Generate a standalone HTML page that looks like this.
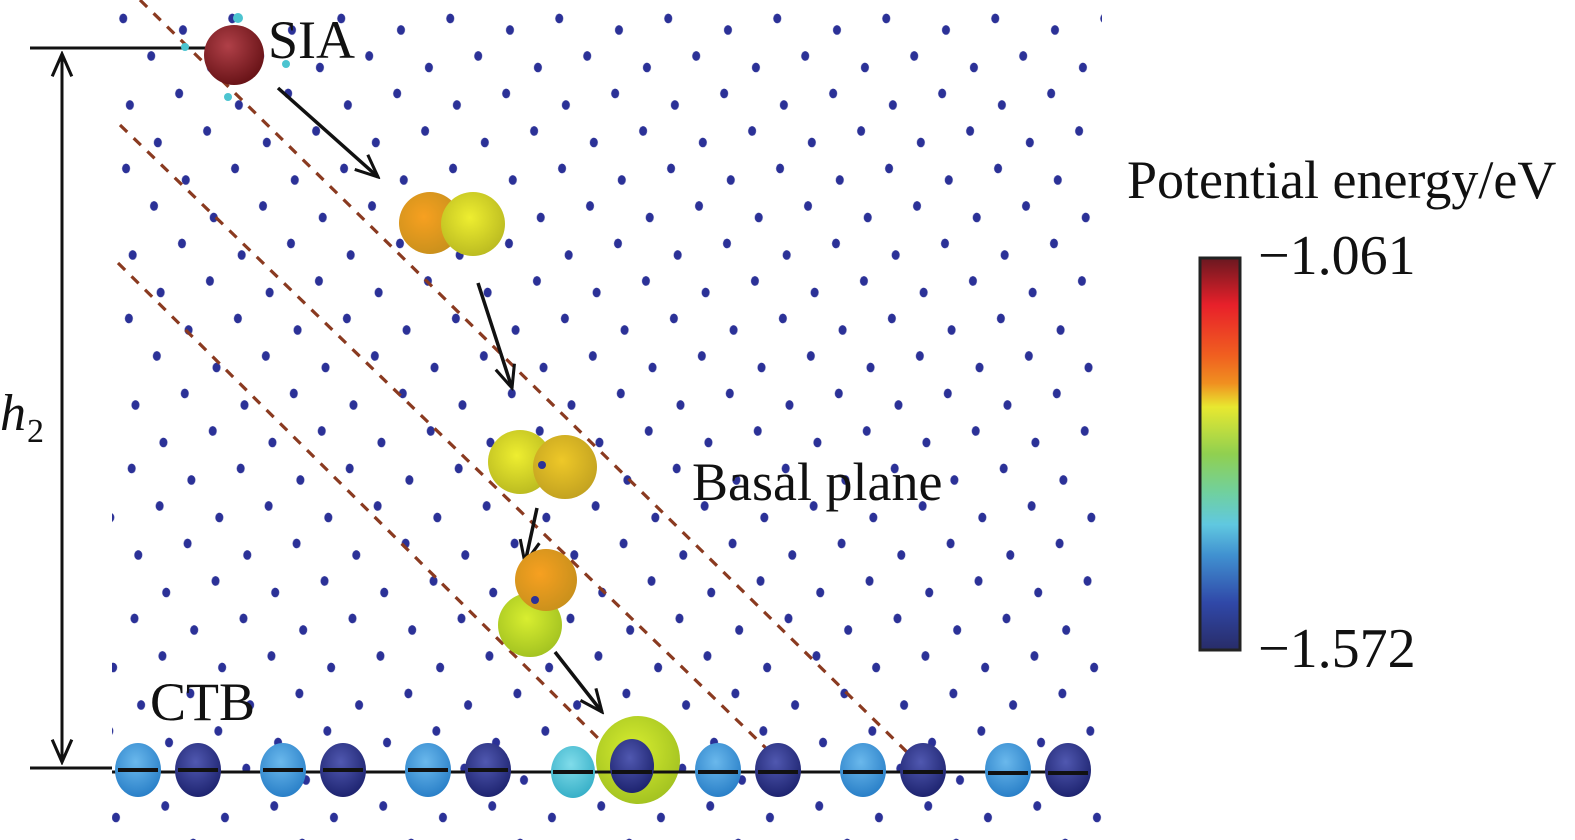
<!DOCTYPE html>
<html><head><meta charset="utf-8"><style>
html,body{margin:0;padding:0;background:#fff}
svg{display:block}
text{font-family:"Liberation Serif",serif;fill:#111}
</style></head><body>
<svg width="1575" height="840" viewBox="0 0 1575 840" xmlns="http://www.w3.org/2000/svg">
<defs>
<pattern id="pa" width="109" height="37.5" patternUnits="userSpaceOnUse" patternTransform="skewX(36.7)">
<g transform="translate(51.6,30) skewX(-36.7)"><ellipse rx="4" ry="4.8" fill="#2b3197"/></g>
<g transform="translate(0.5,18.5) skewX(-36.7)"><ellipse rx="4" ry="4.8" fill="#2b3197"/></g>
<g transform="translate(109.5,18.5) skewX(-36.7)"><ellipse rx="4" ry="4.8" fill="#2b3197"/></g>
</pattern>
<radialGradient id="gRed" cx="40%" cy="35%" r="65%"><stop offset="0" stop-color="#b04048"/><stop offset="1" stop-color="#6a1418"/></radialGradient>
<radialGradient id="gOr" cx="40%" cy="40%" r="65%"><stop offset="0" stop-color="#f7a020"/><stop offset="1" stop-color="#c8901c"/></radialGradient>
<radialGradient id="gYe" cx="45%" cy="40%" r="65%"><stop offset="0" stop-color="#eeee30"/><stop offset="1" stop-color="#b8b820"/></radialGradient>
<radialGradient id="gYo" cx="45%" cy="40%" r="65%"><stop offset="0" stop-color="#eec828"/><stop offset="1" stop-color="#c0a020"/></radialGradient>
<radialGradient id="gLi" cx="45%" cy="40%" r="65%"><stop offset="0" stop-color="#d8ee30"/><stop offset="1" stop-color="#a0c020"/></radialGradient>
<radialGradient id="gLb" cx="45%" cy="35%" r="65%"><stop offset="0" stop-color="#6ab8ec"/><stop offset="1" stop-color="#2a80c8"/></radialGradient>
<radialGradient id="gDb" cx="45%" cy="35%" r="65%"><stop offset="0" stop-color="#5058b0"/><stop offset="1" stop-color="#1e2470"/></radialGradient>
<radialGradient id="gCy" cx="45%" cy="35%" r="65%"><stop offset="0" stop-color="#80dcea"/><stop offset="1" stop-color="#38b0c8"/></radialGradient>
<linearGradient id="cb" x1="0" y1="0" x2="0" y2="1">
<stop offset="0" stop-color="#6a1820"/><stop offset="0.12" stop-color="#e8202a"/><stop offset="0.25" stop-color="#f06020"/><stop offset="0.32" stop-color="#f09020"/><stop offset="0.38" stop-color="#e8e830"/><stop offset="0.5" stop-color="#90d050"/><stop offset="0.6" stop-color="#70d0a0"/><stop offset="0.68" stop-color="#60c8e0"/><stop offset="0.76" stop-color="#4090d0"/><stop offset="0.88" stop-color="#3048a8"/><stop offset="1" stop-color="#282c68"/>
</linearGradient>
<marker id="ah2" viewBox="0 0 20 20" refX="18" refY="10" markerWidth="28" markerHeight="28" markerUnits="userSpaceOnUse" orient="auto-start-reverse"><path d="M2,3 L18,10 L2,17" fill="none" stroke="#111" stroke-width="2.2"/></marker>
</defs>
<rect x="112" y="0" width="990" height="840" fill="url(#pa)"/>
<g stroke="#8a3a20" stroke-width="3.2" stroke-dasharray="10,9">
<line x1="140" y1="0" x2="910" y2="755"/>
<line x1="120" y1="125" x2="770" y2="752"/>
<line x1="118" y1="263" x2="605" y2="745"/>
</g>
<line x1="30" y1="48" x2="210" y2="48" stroke="#111" stroke-width="3"/>
<line x1="30" y1="768" x2="112" y2="768" stroke="#111" stroke-width="3"/>
<line x1="62" y1="54" x2="62" y2="762" stroke="#111" stroke-width="3" marker-start="url(#ah2)" marker-end="url(#ah2)"/>
<text x="0" y="430" font-size="52" font-style="italic">h</text><text x="27" y="442" font-size="34">2</text>
<circle cx="234" cy="55" r="30" fill="url(#gRed)"/>
<circle cx="238" cy="18" r="5" fill="#4cc4d0"/><circle cx="185" cy="47" r="4" fill="#4cc4d0"/><circle cx="286" cy="64" r="4" fill="#4cc4d0"/><circle cx="228" cy="97" r="4" fill="#4cc4d0"/>
<text x="268" y="58" font-size="54">SIA</text>
<g stroke="#111" stroke-width="3.5" fill="none" marker-end="url(#ah2)">
<line x1="278" y1="88" x2="378" y2="177"/>
<line x1="478" y1="283" x2="512" y2="388"/>
<line x1="537" y1="508" x2="525" y2="563"/>
<line x1="555" y1="652" x2="602" y2="712"/>
</g>
<circle cx="430" cy="223" r="31" fill="url(#gOr)"/>
<circle cx="473" cy="224" r="32" fill="url(#gYe)"/>
<circle cx="520" cy="462" r="32" fill="url(#gYe)"/>
<circle cx="565" cy="467" r="32" fill="url(#gYo)"/>
<circle cx="530" cy="625" r="32" fill="url(#gLi)"/>
<circle cx="546" cy="580" r="31" fill="url(#gOr)"/>
<circle cx="542" cy="465" r="4" fill="#2b3197"/><circle cx="535" cy="600" r="4" fill="#2b3197"/>
<text x="692" y="500" font-size="54">Basal plane</text>
<text x="150" y="720" font-size="54">CTB</text>
<ellipse cx="638" cy="760" rx="42" ry="44" fill="url(#gLi)"/>
<line x1="112" y1="772" x2="1090" y2="772" stroke="#111" stroke-width="3"/>
<g>
<ellipse cx="138" cy="770" rx="23" ry="27" fill="url(#gLb)"/>
<ellipse cx="198" cy="770" rx="23" ry="27" fill="url(#gDb)"/>
<ellipse cx="283" cy="770" rx="23" ry="27" fill="url(#gLb)"/>
<ellipse cx="343" cy="770" rx="23" ry="27" fill="url(#gDb)"/>
<ellipse cx="428" cy="770" rx="23" ry="27" fill="url(#gLb)"/>
<ellipse cx="488" cy="770" rx="23" ry="27" fill="url(#gDb)"/>
<ellipse cx="573" cy="772" rx="22" ry="26" fill="url(#gCy)"/>
<ellipse cx="632" cy="766" rx="22" ry="27" fill="url(#gDb)"/>
<ellipse cx="718" cy="770" rx="23" ry="27" fill="url(#gLb)"/>
<ellipse cx="778" cy="770" rx="23" ry="27" fill="url(#gDb)"/>
<ellipse cx="863" cy="770" rx="23" ry="27" fill="url(#gLb)"/>
<ellipse cx="923" cy="770" rx="23" ry="27" fill="url(#gDb)"/>
<ellipse cx="1008" cy="770" rx="23" ry="27" fill="url(#gLb)"/>
<ellipse cx="1068" cy="770" rx="23" ry="27" fill="url(#gDb)"/>
</g>
<g stroke="#111" stroke-width="4">
<line x1="118" y1="770" x2="158" y2="770"/><line x1="178" y1="770" x2="218" y2="770"/>
<line x1="263" y1="770" x2="303" y2="770"/><line x1="323" y1="770" x2="363" y2="770"/>
<line x1="408" y1="770" x2="448" y2="770"/><line x1="468" y1="770" x2="508" y2="770"/>
<line x1="553" y1="772" x2="593" y2="772"/><line x1="612" y1="772" x2="652" y2="772"/>
<line x1="698" y1="772" x2="738" y2="772"/><line x1="758" y1="772" x2="798" y2="772"/>
<line x1="843" y1="772" x2="883" y2="772"/><line x1="903" y1="772" x2="943" y2="772"/>
<line x1="988" y1="773" x2="1028" y2="773"/><line x1="1048" y1="773" x2="1088" y2="773"/>
</g>
<text x="1127" y="198" font-size="54">Potential energy/eV</text>
<rect x="1200" y="258" width="40" height="392" fill="url(#cb)" stroke="#222" stroke-width="3"/>
<text x="1258" y="274" font-size="56">−1.061</text>
<text x="1258" y="667" font-size="56">−1.572</text>
</svg>
</body></html>
